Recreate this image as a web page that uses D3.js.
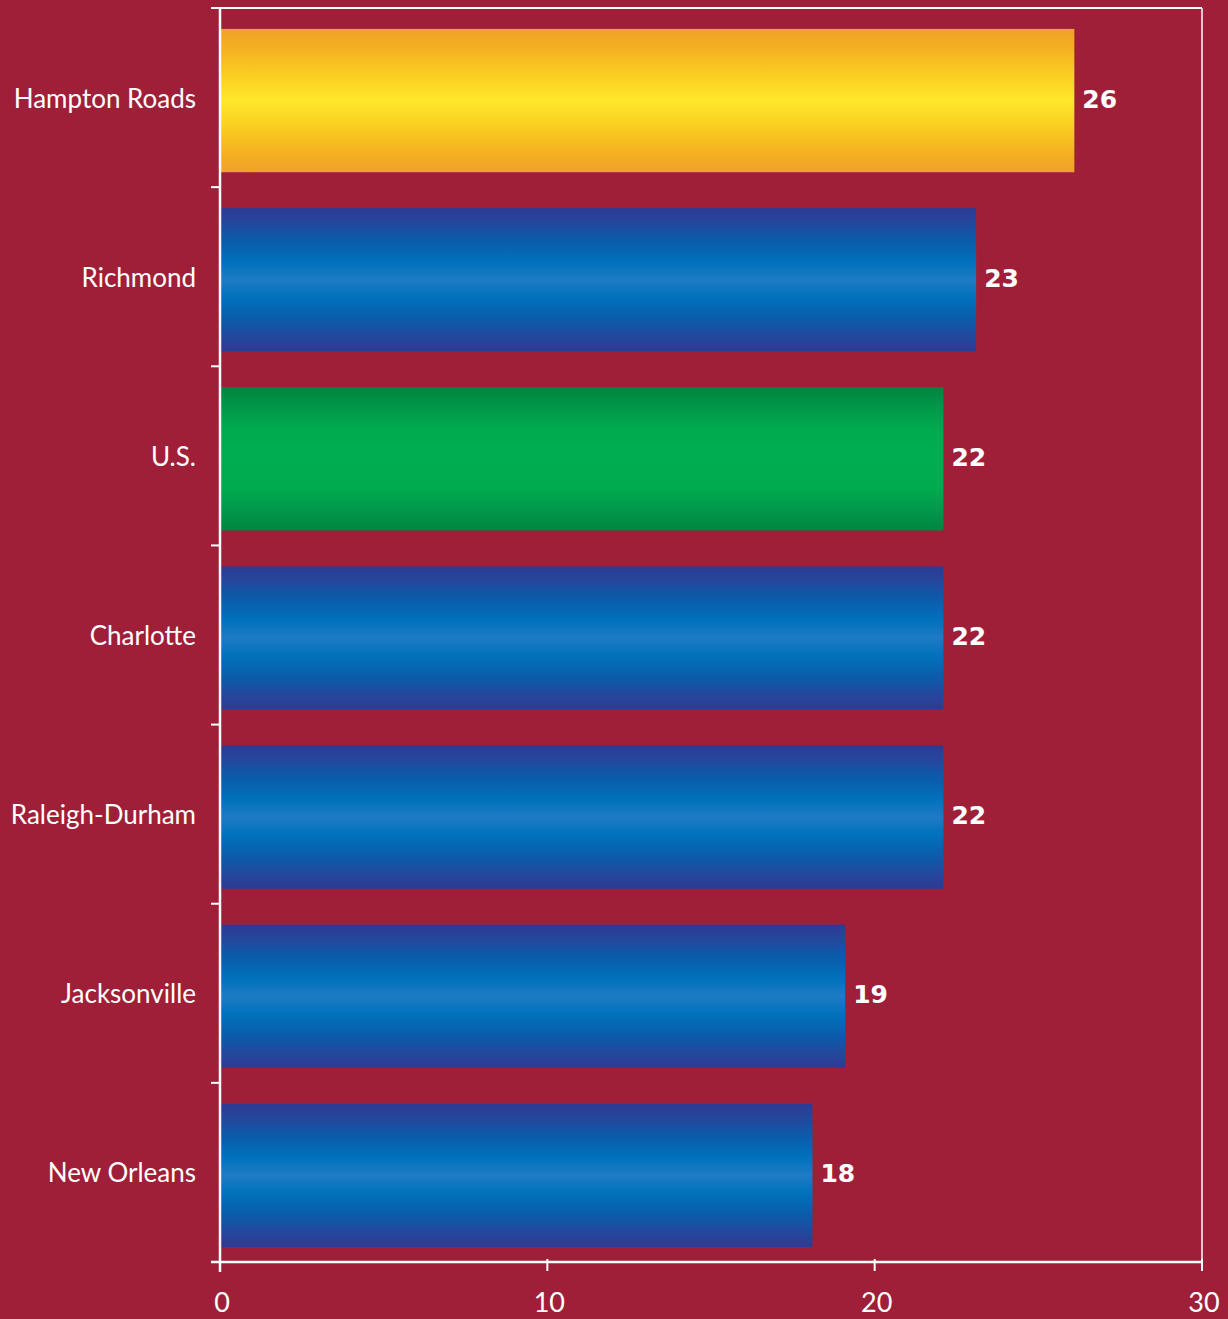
<!DOCTYPE html>
<html><head><meta charset="utf-8">
<script src="https://cdn.jsdelivr.net/npm/d3@7"></script>
<style>
html,body{margin:0;padding:0;background:#A01F38;}
svg{display:block;}
</style></head>
<body>
<svg id="chart" width="1228" height="1319"></svg>
<script>
const categories = ["Hampton Roads","Richmond","U.S.","Charlotte","Raleigh-Durham","Jacksonville","New Orleans"];
const values = [26.1, 23.1, 22.1, 22.1, 22.1, 19.1, 18.1];
const valueLabels = ["26","23","22","22","22","19","18"];
const barKinds = ["gold","blue","green","blue","blue","blue","blue"];
const xTicks = [0, 10, 20, 30];

const W = 1228, H = 1319;
const m = {left: 220, right: 26, top: 8, bottom: 57};
const svg = d3.select("#chart");
const bg = "#A01F38";
svg.append("rect").attr("width", W).attr("height", H).attr("fill", bg);

const x = d3.scaleLinear().domain([0, 30]).range([m.left, W - m.right]);
const y = d3.scaleBand().domain(categories).range([m.top, H - m.bottom]).paddingInner(0.2).paddingOuter(0.1);

const defs = svg.append("defs");
const grads = {
  gold: [["0%","#F0A12B"],["12%","#F4AE22"],["30%","#F9CB20"],["50%","#FFE82C"],["70%","#F9CB20"],["88%","#F4AE22"],["100%","#F0A12B"]],
  blue: [["0%","#2E3A94"],["10%","#24479C"],["22%","#0B5BA9"],["38%","#0072BC"],["50%","#1E7BC4"],["62%","#0072BC"],["78%","#0B5BA9"],["90%","#24479C"],["100%","#2E3A94"]],
  green: [["0%","#00853F"],["15%","#00994A"],["30%","#00AB4F"],["50%","#00AD50"],["70%","#00AB4F"],["85%","#00994A"],["100%","#00853F"]]
};
Object.entries(grads).forEach(([k, stops]) => {
  const g = defs.append("linearGradient").attr("id", "g-" + k).attr("x1", 0).attr("y1", 0).attr("x2", 0).attr("y2", 1);
  stops.forEach(([o, c]) => g.append("stop").attr("offset", o).attr("stop-color", c));
});

// frame lines (top, right)
svg.append("line").attr("x1", x(0)).attr("x2", x(30)).attr("y1", m.top).attr("y2", m.top)
  .attr("stroke", "#fff").attr("stroke-width", 2);
svg.append("line").attr("x1", x(30)).attr("x2", x(30)).attr("y1", m.top).attr("y2", H - m.bottom)
  .attr("stroke", "#fff").attr("stroke-width", 1.5);

const data = categories.map((c, i) => ({c, v: values[i], label: valueLabels[i], kind: barKinds[i]}));

svg.append("g").selectAll("rect").data(data).join("rect")
  .attr("x", x(0))
  .attr("y", d => y(d.c) + 3)
  .attr("width", d => x(d.v) - x(0))
  .attr("height", y.bandwidth())
  .attr("fill", d => "url(#g-" + d.kind + ")");

svg.append("g").selectAll("text").data(data).join("text")
  .attr("x", d => x(d.v) + 8)
  .attr("y", d => y(d.c) + 3 + y.bandwidth() / 2 + 7)
  .attr("fill", "#fff")
  .attr("font-family", "'DejaVu Sans', sans-serif")
  .attr("font-weight", "bold")
  .attr("font-size", 25)
  .text(d => d.label);

// Y axis
const yAxis = svg.append("g").attr("transform", `translate(${x(0)},0)`);
yAxis.append("line").attr("x1", 0).attr("x2", 0).attr("y1", m.top).attr("y2", H - m.bottom + 10)
  .attr("stroke", "#fff").attr("stroke-width", 2.5);
const bandEdges = d3.range(categories.length + 1).map(i => m.top + i * (H - m.bottom - m.top) / categories.length);
yAxis.selectAll("line.tick").data(bandEdges).join("line").attr("class", "tick")
  .attr("x1", -9).attr("x2", 0).attr("y1", d => d).attr("y2", d => d)
  .attr("stroke", "#fff").attr("stroke-width", 2);
yAxis.selectAll("text").data(categories).join("text")
  .attr("x", -24)
  .attr("y", d => y(d) + 3 + y.bandwidth() / 2 + 7)
  .attr("text-anchor", "end")
  .attr("fill", "#fff")
  .attr("font-family", "Lato, 'Open Sans', sans-serif")
  .attr("font-size", 26)
  .text(d => d);

// X axis
const xAxis = svg.append("g").attr("transform", `translate(0,${H - m.bottom})`);
xAxis.append("line").attr("x1", x(0) - 9).attr("x2", x(30)).attr("y1", 0).attr("y2", 0)
  .attr("stroke", "#fff").attr("stroke-width", 2.5);
xAxis.selectAll("line.tick").data(xTicks).join("line").attr("class", "tick")
  .attr("x1", d => x(d)).attr("x2", d => x(d)).attr("y1", -3).attr("y2", 9)
  .attr("stroke", "#fff").attr("stroke-width", 2);
xAxis.selectAll("text").data(xTicks).join("text")
  .attr("x", d => x(d) + 2)
  .attr("y", 50)
  .attr("text-anchor", "middle")
  .attr("fill", "#fff")
  .attr("font-family", "Lato, 'Open Sans', sans-serif")
  .attr("font-size", 27)
  .text(d => d);
</script>
</body></html>
